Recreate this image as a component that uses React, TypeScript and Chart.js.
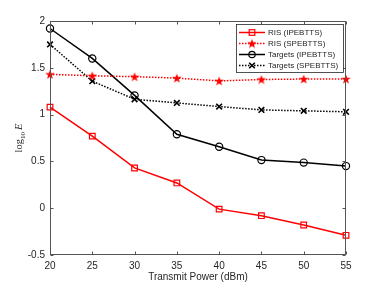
import React, { useEffect, useRef } from "react";
import { Chart, registerables } from "chart.js";

Chart.register(...registerables);

const powers = [20, 25, 30, 35, 40, 45, 50, 55];
const risIPE = [1.08, 0.77, 0.43, 0.27, -0.01, -0.08, -0.18, -0.29];
const risSPE = [1.43, 1.415, 1.405, 1.39, 1.36, 1.375, 1.38, 1.38];
const tgtIPE = [1.92, 1.6, 1.205, 0.79, 0.657, 0.514, 0.487, 0.45];
const tgtSPE = [1.75, 1.357, 1.164, 1.125, 1.086, 1.05, 1.04, 1.03];
const seriesNames = ["RIS (IPEBTTS)", "RIS (SPEBTTS)", "Targets (IPEBTTS)", "Targets (SPEBTTS)"];
const xTicks = [20, 25, 30, 35, 40, 45, 50, 55];
const yTicks = [-0.5, 0, 0.5, 1, 1.5, 2];

const RED = "#ff0000";
const BLACK = "#000000";
const AX = "#262626";

function makeStar(size: number, color: string) {
  const c = document.createElement("canvas");
  c.width = size;
  c.height = size;
  const ctx = c.getContext("2d")!;
  const cx = size / 2, cy = size / 2 + 0.4;
  const R = size / 2, r = R * 0.4;
  ctx.beginPath();
  for (let i = 0; i < 10; i++) {
    const ang = -Math.PI / 2 + (i * Math.PI) / 5;
    const rad = i % 2 === 0 ? R : r;
    const px = cx + rad * Math.cos(ang), py = cy + rad * Math.sin(ang);
    if (i === 0) ctx.moveTo(px, py); else ctx.lineTo(px, py);
  }
  ctx.closePath();
  ctx.fillStyle = color;
  ctx.fill();
  return c;
}

export default function App() {
  const ref = useRef<HTMLCanvasElement>(null);
  useEffect(() => {
    const star = makeStar(10, RED);
    const mk = (xs: number[], ys: number[]) => xs.map((x, i) => ({ x, y: ys[i] }));
    const datasets: any[] = [
      {
        label: seriesNames[0], data: mk(powers, risIPE), borderColor: RED, borderWidth: 1.5,
        pointStyle: "rect", pointRadius: 4, pointBorderWidth: 1.2, pointBorderColor: RED,
        pointBackgroundColor: "rgba(0,0,0,0)", clip: false,
      },
      {
        label: seriesNames[1], data: mk(powers, risSPE), borderColor: RED, borderWidth: 1.5,
        borderDash: [1.5, 1.5], pointStyle: star, pointRadius: 5, clip: false,
      },
      {
        label: seriesNames[2], data: mk(powers, tgtIPE), borderColor: BLACK, borderWidth: 1.5,
        pointStyle: "circle", pointRadius: 3.6, pointBorderWidth: 1.2, pointBorderColor: BLACK,
        pointBackgroundColor: "rgba(0,0,0,0)", clip: false,
      },
      {
        label: seriesNames[3], data: mk(powers, tgtSPE), borderColor: BLACK, borderWidth: 1.5,
        borderDash: [1.5, 1.5], pointStyle: "crossRot", pointRadius: 4, pointBorderWidth: 1.6,
        pointBorderColor: BLACK, clip: false,
      },
    ];

    const framePlugin = {
      id: "frame",
      afterDraw(chart: any) {
        const { ctx, chartArea: a, scales } = chart;
        const xs = scales.x, ys = scales.y;
        ctx.save();
        ctx.strokeStyle = "#555";
        ctx.lineWidth = 1;
        const L = Math.round(a.left) + 0.5, R = Math.round(a.right) - 0.5;
        const T = Math.round(a.top) + 0.5, B = Math.round(a.bottom) - 0.5;
        ctx.strokeRect(L, T, R - L, B - T);
        ctx.beginPath();
        for (const v of xTicks) {
          const px = Math.round(xs.getPixelForValue(v)) + 0.5;
          ctx.moveTo(px, B); ctx.lineTo(px, B - 3);
          ctx.moveTo(px, T); ctx.lineTo(px, T + 3);
        }
        for (const v of yTicks) {
          const py = Math.round(ys.getPixelForValue(v)) + 0.5;
          ctx.moveTo(L, py); ctx.lineTo(L + 3, py);
          ctx.moveTo(R, py); ctx.lineTo(R - 3, py);
        }
        ctx.stroke();

        // x title
        ctx.fillStyle = AX;
        ctx.font = "10px 'Liberation Sans', Arial, sans-serif";
        ctx.textAlign = "center";
        ctx.textBaseline = "middle";
        ctx.fillText("Transmit Power (dBm)", (a.left + a.right) / 2, 277);

        // y title
        ctx.save();
        ctx.translate(19, (a.top + a.bottom) / 2);
        ctx.rotate(-Math.PI / 2);
        ctx.textAlign = "left";
        ctx.textBaseline = "alphabetic";
        const f1 = "10.5px 'Liberation Serif', 'Times New Roman', serif";
        const f2 = "7px 'Liberation Serif', 'Times New Roman', serif";
        const f3 = "italic 10.5px 'Liberation Serif', 'Times New Roman', serif";
        ctx.font = f1; const w1 = ctx.measureText("log").width;
        ctx.font = f2; const w2 = ctx.measureText("10").width;
        ctx.font = f3; const w3 = ctx.measureText("E").width;
        const gap = 2;
        let x0 = -(w1 + w2 + gap + w3) / 2;
        ctx.font = f1; ctx.fillText("log", x0, 3);
        x0 += w1;
        ctx.font = f2; ctx.fillText("10", x0, 6);
        x0 += w2 + gap;
        ctx.font = f3; ctx.fillText("E", x0, 3);
        ctx.restore();

        // legend
        const lx = 236.5, ly = 24.5, lw = 107, lh = 48;
        ctx.fillStyle = "#ffffff";
        ctx.fillRect(lx, ly, lw, lh);
        ctx.strokeStyle = AX;
        ctx.lineWidth = 0.8;
        ctx.strokeRect(lx, ly, lw, lh);
        const rows = [32.5, 43.5, 54.5, 65.5];
        datasets.forEach((d, i) => {
          const y = rows[i];
          ctx.save();
          ctx.strokeStyle = d.borderColor;
          ctx.lineWidth = 1.5;
          ctx.setLineDash(d.borderDash || []);
          ctx.beginPath();
          ctx.moveTo(239, y); ctx.lineTo(265, y);
          ctx.stroke();
          ctx.restore();
          const cx = 252;
          ctx.save();
          ctx.strokeStyle = d.borderColor;
          ctx.lineWidth = d.pointBorderWidth || 1.2;
          if (i === 0) {
            ctx.strokeRect(cx - 2.8, y - 2.8, 5.6, 5.6);
          } else if (i === 1) {
            ctx.drawImage(star, cx - 5, y - 5);
          } else if (i === 2) {
            ctx.beginPath(); ctx.arc(cx, y, 3.2, 0, Math.PI * 2); ctx.stroke();
          } else {
            ctx.beginPath();
            ctx.moveTo(cx - 2.8, y - 2.8); ctx.lineTo(cx + 2.8, y + 2.8);
            ctx.moveTo(cx + 2.8, y - 2.8); ctx.lineTo(cx - 2.8, y + 2.8);
            ctx.stroke();
          }
          ctx.restore();
          ctx.fillStyle = AX;
          ctx.font = "8px 'Liberation Sans', Arial, sans-serif";
          ctx.textAlign = "left";
          ctx.textBaseline = "middle";
          ctx.fillText(d.label, 268, y);
        });
        ctx.restore();
      },
    };

    const chart = new Chart(ref.current!, {
      type: "line",
      data: { datasets },
      options: {
        animation: false,
        responsive: false,
        maintainAspectRatio: false,
        layout: { padding: { top: 21, right: 36, left: 0, bottom: 0 } },
        plugins: { legend: { display: false }, tooltip: { enabled: false } },
        scales: {
          x: {
            type: "linear", min: 20, max: 55,
            afterBuildTicks: (s: any) => { s.ticks = xTicks.map((v) => ({ value: v })); },
            afterFit: (s: any) => { s.height = 32; },
            grid: { display: false, drawTicks: false }, border: { display: false },
            ticks: { color: AX, padding: 5, maxRotation: 0, callback: (v: any) => String(v), font: { family: "'Liberation Sans', Arial, sans-serif", size: 10 } },
          },
          y: {
            type: "linear", min: -0.5, max: 2,
            afterBuildTicks: (s: any) => { s.ticks = yTicks.map((v) => ({ value: v })); },
            afterFit: (s: any) => { s.width = 50; },
            grid: { display: false, drawTicks: false }, border: { display: false },
            ticks: { color: AX, padding: 5, callback: (v: any) => String(v), font: { family: "'Liberation Sans', Arial, sans-serif", size: 10 } },
          },
        },
      } as any,
      plugins: [framePlugin],
    });
    return () => chart.destroy();
  }, []);
  return (
    <div style={{ position: "fixed", left: 0, top: 0, width: 382, height: 287, background: "#fff" }}>
      <canvas ref={ref} width={382} height={287} style={{ width: 382, height: 287 }} />
    </div>
  );
}
